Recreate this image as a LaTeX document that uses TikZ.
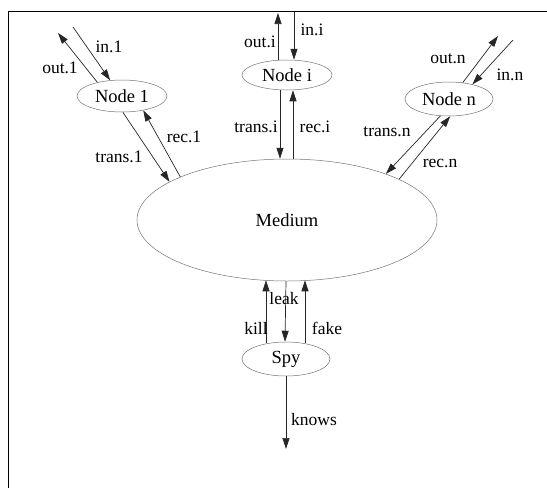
\documentclass[tikz,border=0pt]{standalone}
\usepackage{fontspec}
\setmainfont{Liberation Serif}
\usetikzlibrary{shapes.geometric,arrows.meta,calc}
\begin{document}
\begin{tikzpicture}[x=1pt,y=-1pt,
  proc/.style={ellipse,draw=black!55,line width=0.5pt,inner sep=0pt,font=\fontsize{18.5}{21}\selectfont},
  lab/.style={inner sep=0pt,font=\fontsize{17.5}{20}\selectfont},
  conn/.style={draw=black!85,line width=0.7pt,-{Triangle[length=11pt,width=7pt]}}]
\useasboundingbox (0,0) rectangle (547,488);
\clip (0,0) rectangle (547,488);
\draw[line width=0.9pt] (8,560) -- (8,11) -- (600,11);
% nodes
\node[proc,minimum width=300pt,minimum height=122pt] (Medium) at (287,220) {Medium};
\node[proc,minimum width=90pt,minimum height=32pt] (Node1) at (122,96) {Node 1};
\node[proc,minimum width=90pt,minimum height=30pt] (Nodei) at (287,75) {Node i};
\node[proc,minimum width=88pt,minimum height=34pt] (Noden) at (449,99) {Node n};
\node[proc,minimum width=88pt,minimum height=34pt] (Spy) at (286,359) {Spy};
% free ends
\coordinate (out1) at (58,33);
\coordinate (in1) at (73,27);
\coordinate (outi) at (278,13);
\coordinate (ini) at (294,11.5);
\coordinate (outn) at (498,36);
\coordinate (inn) at (513,40);
\coordinate (knowsend) at (286,449);
% Node 1
\draw[conn] (Node1.151) -- (out1);
\draw[conn] (in1) -- (Node1.127);
\draw[conn] (Node1.273) -- (Medium.162.5);
\draw[conn] (Medium.158) -- (Node1.326);
% Node i
\draw[conn] ($(Nodei.north)+(-9,0)$) -- (outi);
\draw[conn] (ini) -- ($(Nodei.north)+(7,0)$);
\draw[conn] ($(Nodei.south)+(-7,0)$) -- ($(Medium.north)+(-7,0)$);
\draw[conn] ($(Medium.north)+(6,0)$) -- ($(Nodei.south)+(6,0)$);
% Node n
\draw[conn] (Noden.50) -- (outn);
\draw[conn] (inn) -- (Noden.32);
\draw[conn] (Noden.243) -- (Medium.25);
\draw[conn] (Medium.20) -- (Noden.274);
% Spy
\draw[conn] ($(Spy.north)+(-20,1.5)$) -- ($(Medium.south)+(-21,-1)$);
\draw[conn] ($(Medium.south)+(-1,0)$) -- ($(Spy.north)+(-1,0)$);
\draw[conn] ($(Spy.north)+(19,1.5)$) -- ($(Medium.south)+(18,-1)$);
\draw[conn] (Spy.south) -- (knowsend);
% labels
\node[lab] (lin1) at (109,47) {in.1};
\node[lab] (lout1) at (60,68) {out.1};
\node[lab] (lrec1) at (184,137) {rec.1};
\node[lab] (ltrans1) at (119,157) {trans.1};
\node[lab] (louti) at (260,42) {out.i};
\node[lab] (lini) at (312,30) {in.i};
\node[lab] (ltransi) at (256,127) {trans.i};
\node[lab] (lreci) at (315,127) {rec.i};
\node[lab] (loutn) at (448,59) {out.n};
\node[lab] (linn) at (510,75) {in.n};
\node[lab] (ltransn) at (387,132) {trans.n};
\node[lab] (lrecn) at (440,163) {rec.n};
\node[lab] (lleak) at (284,299) {leak};
\node[lab] (lkill) at (256,328) {kill};
\node[lab] (lfake) at (327,328) {fake};
\node[lab] (lknows) at (314,420) {knows};
\end{tikzpicture}
\end{document}
